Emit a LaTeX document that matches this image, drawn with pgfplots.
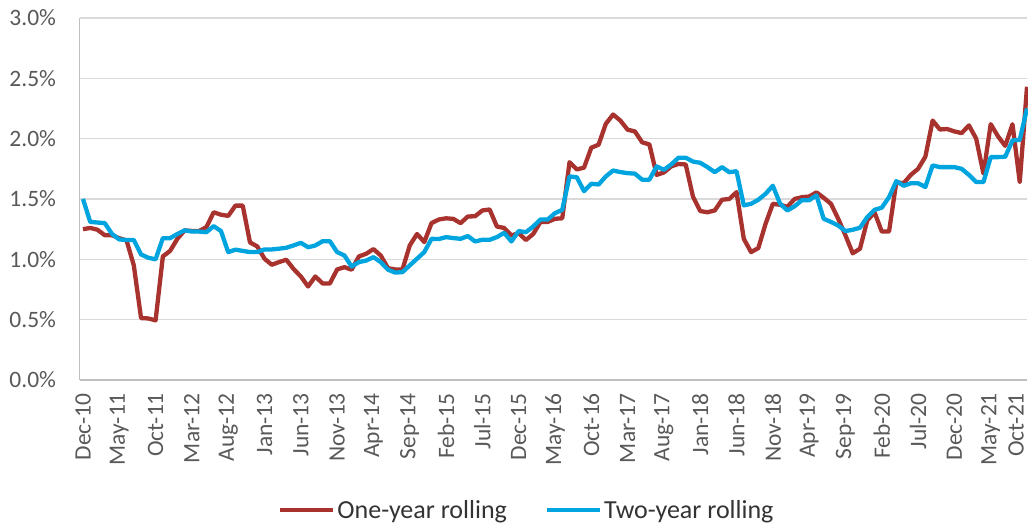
\documentclass[border=0pt]{standalone}
\usepackage{pgfplots}
\pgfplotsset{compat=1.18}
\usepackage{pgfplotstable}
\usepackage{fontspec}
\setmainfont{Carlito}

\definecolor{oneyr}{RGB}{168,50,45}
\definecolor{twoyr}{RGB}{0,164,222}
\definecolor{gridgrey}{RGB}{217,217,217}
\definecolor{axisgrey}{RGB}{191,191,191}
\definecolor{labelgrey}{RGB}{89,89,89}

% month index (0 = Dec-10), one-year and two-year rolling values in percent
\pgfplotstableread{
i one two
0 1.25 1.50
1 1.26 1.31
2 1.245 1.305
3 1.20 1.30
4 1.20 1.21
5 1.175 1.165
6 1.157 1.16
7 0.95 1.16
8 0.513 1.04
9 0.51 1.013
10 0.494 1.00
11 1.024 1.175
12 1.07 1.175
13 1.17 1.21
14 1.24 1.24
15 1.235 1.23
16 1.235 1.23
17 1.267 1.225
18 1.39 1.275
19 1.37 1.235
20 1.36 1.06
21 1.445 1.08
22 1.445 1.07
23 1.14 1.06
24 1.107 1.06
25 1.005 1.082
26 0.955 1.082
27 0.977 1.088
28 0.997 1.096
29 0.92 1.115
30 0.858 1.137
31 0.775 1.10
32 0.858 1.115
33 0.80 1.15
34 0.80 1.15
35 0.916 1.06
36 0.935 1.032
37 0.914 0.94
38 1.024 0.977
39 1.046 0.99
40 1.085 1.018
41 1.032 0.977
42 0.927 0.914
43 0.916 0.89
44 0.916 0.894
45 1.115 0.95
46 1.21 1.005
47 1.143 1.06
48 1.30 1.17
49 1.33 1.168
50 1.34 1.184
51 1.335 1.176
52 1.30 1.17
53 1.355 1.193
54 1.357 1.148
55 1.405 1.162
56 1.413 1.162
57 1.272 1.184
58 1.26 1.22
59 1.198 1.148
60 1.217 1.234
61 1.16 1.225
62 1.21 1.272
63 1.31 1.33
64 1.31 1.33
65 1.336 1.383
66 1.34 1.41
67 1.805 1.687
68 1.745 1.68
69 1.76 1.565
70 1.925 1.626
71 1.95 1.62
72 2.123 1.687
73 2.20 1.736
74 2.15 1.723
75 2.074 1.714
76 2.06 1.71
77 1.97 1.66
78 1.952 1.66
79 1.70 1.77
80 1.72 1.742
81 1.77 1.786
82 1.79 1.842
83 1.786 1.842
84 1.52 1.81
85 1.40 1.80
86 1.39 1.764
87 1.405 1.722
88 1.494 1.764
89 1.50 1.722
90 1.557 1.73
91 1.17 1.447
92 1.06 1.46
93 1.093 1.494
94 1.295 1.543
95 1.46 1.61
96 1.452 1.46
97 1.435 1.405
98 1.50 1.44
99 1.515 1.49
100 1.52 1.49
101 1.555 1.53
102 1.51 1.336
103 1.46 1.31
104 1.336 1.28
105 1.198 1.234
106 1.05 1.245
107 1.088 1.262
108 1.322 1.35
109 1.39 1.41
110 1.23 1.428
111 1.23 1.515
112 1.64 1.648
113 1.63 1.61
114 1.70 1.63
115 1.75 1.63
116 1.85 1.60
117 2.15 1.778
118 2.076 1.764
119 2.08 1.764
120 2.06 1.764
121 2.046 1.75
122 2.11 1.70
123 2.0 1.64
124 1.71 1.64
125 2.12 1.847
126 2.02 1.847
127 1.94 1.85
128 2.12 1.985
129 1.64 1.99
130 2.43 2.25
}\rolling

\begin{document}
\begin{tikzpicture}[x=1bp,y=1bp]
\begin{axis}[
  at={(79.7bp,144bp)}, anchor=south west,
  width=947.3bp, height=362bp, scale only axis,
  xmin=-0.45, xmax=130, ymin=0, ymax=3,
  clip=false,
  axis x line*=bottom, axis y line*=left,
  axis line style={draw=axisgrey, line width=1.2bp},
  major tick length=0pt,
  ymajorgrids, grid style={draw=gridgrey, line width=1.3bp},
  ytick={0,0.5,...,3},
  yticklabels={0.0\%,0.5\%,1.0\%,1.5\%,2.0\%,2.5\%,3.0\%},
  xtick={0,5,...,125},
  xticklabels={Dec-10,May-11,Oct-11,Mar-12,Aug-12,Jan-13,Jun-13,Nov-13,Apr-14,Sep-14,Feb-15,Jul-15,Dec-15,May-16,Oct-16,Mar-17,Aug-17,Jan-18,Jun-18,Nov-18,Apr-19,Sep-19,Feb-20,Jul-20,Dec-20,May-21},
  extra x ticks={130},
  extra x tick labels={Oct-21},
  extra x tick style={xticklabel style={yshift=11bp}},
  tick label style={font=\fontsize{23.5bp}{28bp}\selectfont, text=labelgrey},
  yticklabel style={anchor=east, inner sep=0pt, xshift=-23.5bp},
  xticklabel style={yshift=-13bp, rotate=90, anchor=east, inner sep=0pt},
  legend style={at={(0.472,-0.359)}, anchor=center, draw=none, fill=none,
    legend columns=2, font=\fontsize{26bp}{30bp}\selectfont, text=black!80,
    /tikz/every even column/.append style={column sep=36bp}},
  legend cell align=left,
  legend image code/.code={\draw[#1] (0bp,0bp) -- (53bp,0bp);},
]
\addplot[oneyr, line width=4.3bp, line join=round] table[x=i, y=one] {\rolling};
\addlegendentry{One-year rolling}
\addplot[twoyr, line width=4.3bp, line join=round] table[x=i, y=two] {\rolling};
\addlegendentry{Two-year rolling}
\end{axis}
\pgfresetboundingbox
\path (0,0) rectangle (1028,524);
\end{tikzpicture}
\end{document}
